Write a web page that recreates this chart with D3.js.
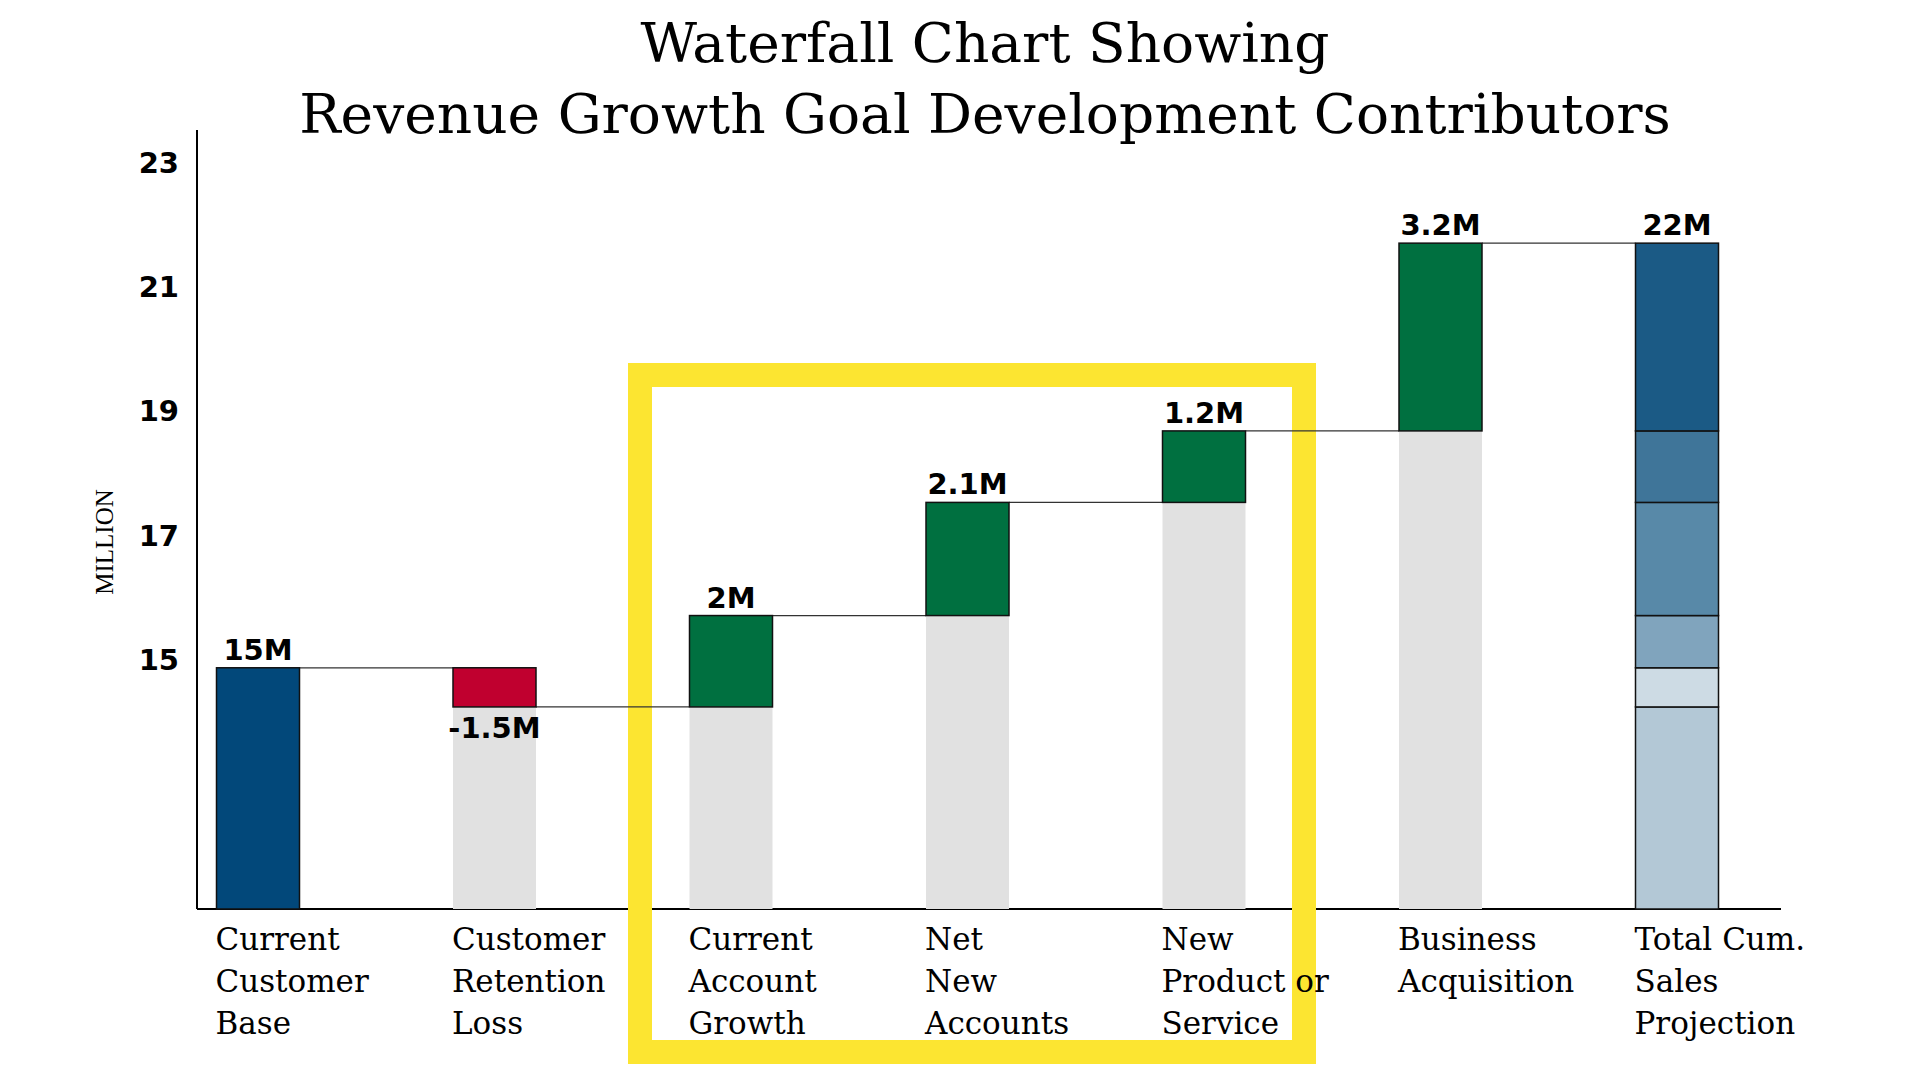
<!DOCTYPE html>
<html>
<head>
<meta charset="utf-8">
<script src="https://cdn.jsdelivr.net/npm/d3@7"></script>
<style>
  body { margin: 0; background: #fff; }
  .tick text { font-family: "DejaVu Sans", sans-serif; font-weight: bold; font-size: 29px; }
  .cat { font-family: "DejaVu Serif", serif; font-size: 31px; }
  .val { font-family: "DejaVu Sans", sans-serif; font-weight: bold; font-size: 29px; }
</style>
</head>
<body>
<svg id="chart" width="1920" height="1080"></svg>
<script>
// categories and values (million)
const categories = [
  "Current Customer Base", "Customer Retention Loss", "Current Account Growth",
  "Net New Accounts", "New Product or Service", "Business Acquisition", "Total Cum. Sales Projection"
];
const categoryLines = [
  ["Current", "Customer", "Base"],
  ["Customer", "Retention", "Loss"],
  ["Current", "Account", "Growth"],
  ["Net", "New", "Accounts"],
  ["New", "Product or", "Service"],
  ["Business", "Acquisition"],
  ["Total Cum.", "Sales", "Projection"]
];
// level before and after each step
const starts = [11, 14.88, 14.25, 15.72, 17.54, 18.69, 11];
const ends = [14.88, 14.25, 15.72, 17.54, 18.69, 21.71, 21.71];
const valueLabels = ["15M", "-1.5M", "2M", "2.1M", "1.2M", "3.2M", "22M"];
const kinds = ["base", "loss", "gain", "gain", "gain", "gain", "total"];
// stacked pieces of the total bar
const totalLevels = [11, 14.25, 14.88, 15.72, 17.54, 18.69, 21.71];
const totalColors = ["#b3c8d6", "#cddbe4", "#80a4bd", "#5889a8", "#3f7599", "#1b5a85"];
const yTicks = [15, 17, 19, 21, 23];

const svg = d3.select("#chart");
const floor = 11;
const y = d3.scaleLinear().domain([floor, 23.53]).range([909, 130]);
const x = d3.scalePoint().domain(categories).range([258, 1677]);
const bw = 83;

// title
svg.append("g").selectAll("text")
  .data(["Waterfall Chart Showing", "Revenue Growth Goal Development Contributors"])
  .join("text")
  .attr("x", 985).attr("y", (d, i) => 62 + i * 71)
  .attr("text-anchor", "middle")
  .style("font-family", "'DejaVu Serif', serif").style("font-size", "55px")
  .text(d => d);

// y axis
const yAxis = svg.append("g").attr("transform", "translate(197,0)")
  .call(d3.axisLeft(y).tickValues(yTicks).tickSize(0).tickPadding(18));
yAxis.select(".domain").remove();
svg.append("line").attr("x1", 197).attr("x2", 197).attr("y1", 130).attr("y2", 909)
  .attr("stroke", "#000").attr("stroke-width", 2);
svg.append("line").attr("x1", 197).attr("x2", 1781).attr("y1", 909).attr("y2", 909)
  .attr("stroke", "#000").attr("stroke-width", 2);
svg.append("text")
  .attr("transform", "translate(113,542) rotate(-90)")
  .attr("text-anchor", "middle")
  .style("font-family", "'Liberation Serif', serif").style("font-size", "25px")
  .text("MILLION");

// highlight frame
svg.append("rect").attr("x", 640).attr("y", 375).attr("width", 664).attr("height", 677)
  .attr("fill", "none").attr("stroke", "#fce531").attr("stroke-width", 24);

// connectors
svg.append("g").selectAll("line")
  .data(d3.range(categories.length - 1))
  .join("line")
  .attr("x1", i => x(categories[i]) + bw / 2)
  .attr("x2", i => x(categories[i + 1]) - bw / 2)
  .attr("y1", i => y(ends[i])).attr("y2", i => y(ends[i]))
  .attr("stroke", "#333").attr("stroke-width", 1.2);

// grey supports
const data = categories.map((c, i) => ({ c, i, s: starts[i], e: ends[i], kind: kinds[i] }));
svg.append("g").selectAll("rect")
  .data(data.filter(d => d.kind === "loss" || d.kind === "gain"))
  .join("rect")
  .attr("x", d => x(d.c) - bw / 2).attr("width", bw)
  .attr("y", d => y(Math.min(d.s, d.e))).attr("height", d => y(floor) - y(Math.min(d.s, d.e)))
  .attr("fill", "#e1e1e1");

// step bars
const color = { base: "#02487a", loss: "#c0002f", gain: "#007040" };
svg.append("g").selectAll("rect")
  .data(data.filter(d => d.kind !== "total"))
  .join("rect")
  .attr("x", d => x(d.c) - bw / 2).attr("width", bw)
  .attr("y", d => y(Math.max(d.s, d.e)))
  .attr("height", d => Math.abs(y(d.s) - y(d.e)))
  .attr("fill", d => color[d.kind]).attr("stroke", "#111").attr("stroke-width", 1.5);

// total stacked bar
const tc = categories[6];
svg.append("g").selectAll("rect")
  .data(totalColors)
  .join("rect")
  .attr("x", x(tc) - bw / 2).attr("width", bw)
  .attr("y", (d, i) => y(totalLevels[i + 1]))
  .attr("height", (d, i) => y(totalLevels[i]) - y(totalLevels[i + 1]))
  .attr("fill", d => d).attr("stroke", "#111").attr("stroke-width", 1.5);

// value labels
svg.append("g").selectAll("text")
  .data(data)
  .join("text").attr("class", "val")
  .attr("x", d => x(d.c)).attr("text-anchor", "middle")
  .attr("y", d => d.kind === "loss" ? y(d.e) + 31 : y(Math.max(d.s, d.e)) - 8)
  .text((d, i) => valueLabels[i]);

// category labels
svg.append("g").selectAll("g")
  .data(data)
  .join("g")
  .each(function (d) {
    d3.select(this).selectAll("text")
      .data(categoryLines[d.i])
      .join("text").attr("class", "cat")
      .attr("x", x(d.c) - bw / 2 - 1)
      .attr("y", (t, j) => 950 + j * 42)
      .text(t => t);
  });
</script>
</body>
</html>
